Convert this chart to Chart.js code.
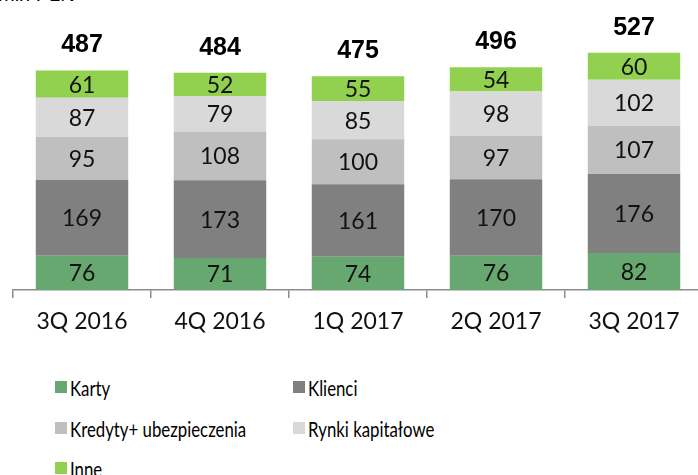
<!DOCTYPE html>
<html>
<head>
<meta charset="utf-8">
<script src="https://cdn.jsdelivr.net/npm/chart.js@4/dist/chart.umd.min.js"></script>
<style>
  html, body { margin: 0; padding: 0; background: #fff; }
  #wrap { position: relative; width: 698px; height: 475px; overflow: hidden; }
  #unit { position: absolute; left: -2px; top: -17px; font: 20px "Liberation Sans", Arial, sans-serif; color: #000; }
  #box { position: absolute; left: 0; top: 0; }
  .leg { position: absolute; font: 21px Lato, sans-serif; color: #000; white-space: nowrap; }
  .leg i { position: absolute; left: 0; top: 50%; width: 12px; height: 12px; margin-top: -6px; }
  .leg span { position: absolute; left: 15px; top: 50%; transform: translateY(-50%) scaleX(0.8); transform-origin: left center; }
</style>
</head>
<body>
<div id="wrap">
  <div id="unit">mln PLN</div>
  <div id="box"><canvas id="c" width="703" height="340"></canvas></div>
  <div id="legend"></div>
</div>
<script>
const quarters = ["3Q 2016", "4Q 2016", "1Q 2017", "2Q 2017", "3Q 2017"];
const karty = [76, 71, 74, 76, 82];
const klienci = [169, 173, 161, 170, 176];
const kredyty = [95, 108, 100, 97, 107];
const rynki = [87, 79, 85, 98, 102];
const inne = [61, 52, 55, 54, 60];
const totals = [487, 484, 475, 496, 527];

const series = [
  ["Karty", karty, "#66a86f"],
  ["Klienci", klienci, "#808080"],
  ["Kredyty+ ubezpieczenia", kredyty, "#bfbfbf"],
  ["Rynki kapitałowe", rynki, "#d9d9d9"],
  ["Inne", inne, "#92d050"]
];

// legend in two columns like the original
const legend = document.getElementById("legend");
series.forEach(([label, , color], i) => {
  const col = i % 2, row = Math.floor(i / 2);
  const el = document.createElement("div");
  el.className = "leg";
  el.style.left = (55 + col * 238) + "px";
  el.style.top = (387 + row * 40.5) + "px";
  el.innerHTML = `<i style="background:${color}"></i><span>${label}</span>`;
  legend.appendChild(el);
});

const labelPlugin = {
  id: "segLabels",
  afterDatasetsDraw(chart) {
    const ctx = chart.ctx;
    ctx.save();
    ctx.textAlign = "center";
    ctx.textBaseline = "middle";
    ctx.fillStyle = "#111";
    ctx.font = "23px Lato, sans-serif";
    chart.data.datasets.forEach((ds, di) => {
      chart.getDatasetMeta(di).data.forEach((bar, i) => {
        ctx.fillText(ds.data[i], bar.x, (bar.y + bar.base) / 2 + 1);
      });
    });
    const top = chart.getDatasetMeta(chart.data.datasets.length - 1).data;
    ctx.font = "bold 25px 'Liberation Sans', Arial, sans-serif";
    ctx.textBaseline = "alphabetic";
    ctx.fillStyle = "#000";
    top.forEach((bar, i) => ctx.fillText(totals[i], bar.x, bar.y - 18));
    ctx.restore();
  }
};

new Chart(document.getElementById("c"), {
  type: "bar",
  data: {
    labels: quarters,
    datasets: series.map(([label, data, color]) => ({
      label, data, backgroundColor: color, borderWidth: 0,
      barPercentage: 0.67, categoryPercentage: 1
    }))
  },
  options: {
    responsive: false,
    animation: false,
    layout: { padding: { left: 13, right: 0, top: 20, bottom: 0 } },
    plugins: { legend: { display: false }, tooltip: { enabled: false } },
    scales: {
      x: {
        stacked: true,
        offset: true,
        grid: { offset: true, drawOnChartArea: false, drawTicks: true, tickLength: 8, color: "#8c8c8c", lineWidth: 1.5 },
        border: { display: true, color: "#8c8c8c", width: 1.5 },
        ticks: { color: "#111", font: { family: "Lato", size: 23 }, padding: 10, maxRotation: 0 },
        afterFit(s) { s.height = 50; }
      },
      y: { stacked: true, display: false, min: 0, max: 600 }
    }
  },
  plugins: [labelPlugin]
});
</script>
</body>
</html>
